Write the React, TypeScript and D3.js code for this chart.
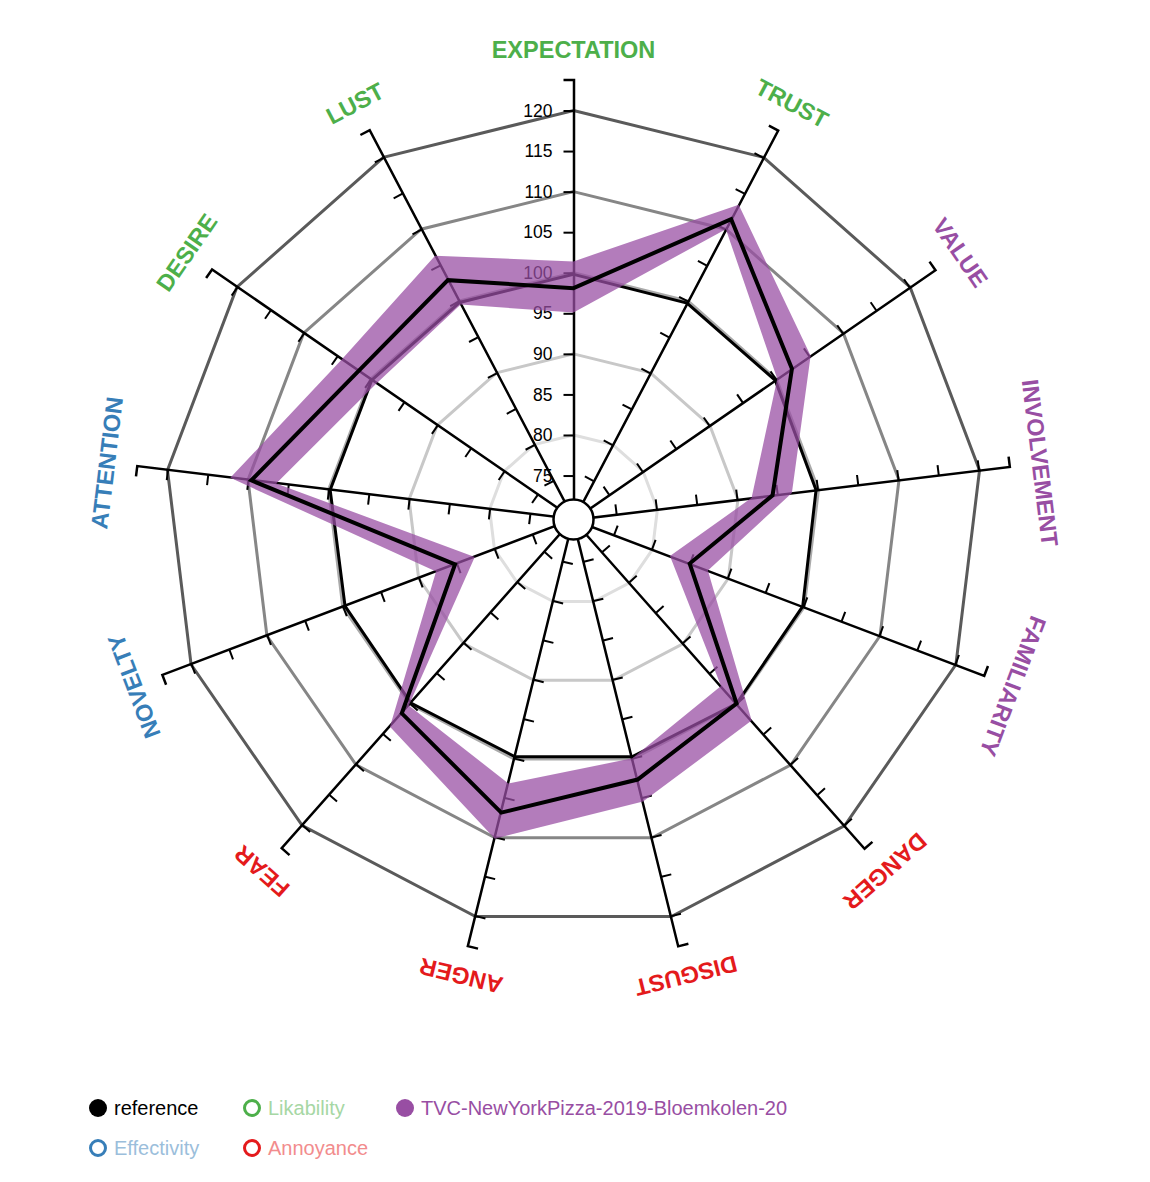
import React, { useEffect, useRef } from 'react';
import * as d3 from 'd3';

const dimensions = [
  'EXPECTATION', 'TRUST', 'VALUE', 'INVOLVEMENT', 'FAMILIARITY', 'DANGER', 'DISGUST',
  'ANGER', 'FEAR', 'NOVELTY', 'ATTENTION', 'DESIRE', 'LUST',
];
const dimensionColors = [
  '#4daf4a', '#4daf4a', '#984ea3', '#984ea3', '#984ea3', '#e41a1c', '#e41a1c',
  '#e41a1c', '#e41a1c', '#377eb8', '#377eb8', '#4daf4a', '#4daf4a',
];
const referenceValues = [99.8, 99.7, 99.8, 99.7, 99.8, 99.9, 99.7, 99.7, 99.8, 99.7, 99.8, 99.8, 99.8];
const tvcMean = [98.1, 111.4, 102.3, 94.3, 84.9, 99.9, 102.6, 106.8, 101.5, 85.2, 109.6, 101.8, 102.9];
const tvcUpper = [101.4, 113.4, 105.1, 96.7, 87.3, 102.7, 105.4, 110.1, 103.7, 87.7, 112.2, 104.3, 106.3];
const tvcLower = [95.1, 110.0, 100.1, 91.7, 82.3, 97.0, 99.9, 103.1, 100.2, 82.6, 106.5, 99.1, 99.5];
const ringLevels = [80, 90, 100, 110, 120];
const ringColors = ['#dedede', '#c8c8c8', '#aaaaaa', '#868686', '#5a5a5a'];
const tickValues = [75, 80, 85, 90, 95, 100, 105, 110, 115, 120];
const legendLabels = ['reference', 'Likability', 'TVC-NewYorkPizza-2019-Bloemkolen-20', 'Effectivity', 'Annoyance'];
const legendColors = ['#000000', '#4daf4a', '#984ea3', '#377eb8', '#e41a1c'];
const legendTextColors = ['#000000', '#a6d7a4', '#984ea3', '#9bbedb', '#f28c8d'];
const legendFilled = [true, false, true, false, false];
const legendCol = [0, 1, 2, 0, 1];
const legendRow = [0, 0, 0, 1, 1];

const W = 1150;
const H = 1182;
const cx = 573.5;
const cy = 519.5;
const FONT = "'Liberation Sans', Arial, Helvetica, sans-serif";

export default function App() {
  const ref = useRef<SVGSVGElement>(null);

  useEffect(() => {
    const svg = d3.select(ref.current);
    svg.selectAll('*').remove();

    const n = dimensions.length;
    const angle = (i: number) => (i * 2 * Math.PI) / n;
    const r = d3.scaleLinear().domain([70, 120]).range([3.4, 409]);
    const axisEndR = 440;
    const axisMax = r.invert(axisEndR);
    const axisScale = d3.scaleLinear().domain([r.invert(0), axisMax]).range([0, -axisEndR]);

    const root = svg.append('g').attr('transform', `translate(${cx},${cy})`);

    // rings
    const ringLine = d3
      .lineRadial<number>()
      .angle((_, i) => angle(i))
      .radius((d) => r(d))
      .curve(d3.curveLinearClosed);
    ringLevels.forEach((lv, k) => {
      root
        .append('path')
        .attr('d', ringLine(dimensions.map(() => lv)) as string)
        .attr('fill', 'none')
        .attr('stroke', ringColors[k])
        .attr('stroke-width', 3);
    });

    // axes
    dimensions.forEach((_, i) => {
      const axis = d3
        .axisLeft(axisScale)
        .tickValues(tickValues)
        .tickSize(10)
        .tickSizeOuter(10)
        .tickPadding(11)
        .tickFormat(i === 0 ? (d3.format('d') as any) : () => '');
      const g = root
        .append('g')
        .attr('transform', `rotate(${(angle(i) * 180) / Math.PI})`)
        .call(axis as any);
      g.attr('font-size', 17.5).attr('font-family', FONT);
      g.select('.domain').attr('stroke', '#000').attr('stroke-width', 2.5);
      g.selectAll('.tick line').attr('stroke', '#000').attr('stroke-width', 2);
      g.selectAll('.tick text').attr('fill', '#000');
    });

    // reference line
    const valLine = d3
      .lineRadial<number>()
      .angle((_, i) => angle(i))
      .radius((d) => r(d))
      .curve(d3.curveLinearClosed);
    root
      .append('path')
      .attr('d', valLine(referenceValues) as string)
      .attr('fill', 'none')
      .attr('stroke', '#000')
      .attr('stroke-width', 3);

    // TVC band
    const band = d3
      .areaRadial<number>()
      .angle((_, i) => angle(i))
      .innerRadius((_, i) => r(tvcLower[i]))
      .outerRadius((_, i) => r(tvcUpper[i]))
      .curve(d3.curveLinearClosed);
    root
      .append('path')
      .attr('d', band(tvcMean) as string)
      .attr('fill', '#984ea3')
      .attr('fill-opacity', 0.74)
      .attr('fill-rule', 'evenodd')
      .attr('stroke', 'none');

    // TVC mean line
    root
      .append('path')
      .attr('d', valLine(tvcMean) as string)
      .attr('fill', 'none')
      .attr('stroke', '#000')
      .attr('stroke-width', 4);

    // center circle
    root
      .append('circle')
      .attr('r', 20)
      .attr('fill', '#fff')
      .attr('stroke', '#000')
      .attr('stroke-width', 2.5);

    // dimension labels
    dimensions.forEach((name, i) => {
      root
        .append('text')
        .attr('transform', `rotate(${(angle(i) * 180) / Math.PI})`)
        .attr('x', 0)
        .attr('y', -470)
        .attr('dy', '0.35em')
        .attr('text-anchor', 'middle')
        .attr('font-family', FONT)
        .attr('font-weight', 'bold')
        .attr('font-size', 23.5)
        .attr('fill', dimensionColors[i])
        .text(name);
    });

    // legend
    const colX = [98, 252, 405];
    const rowY = [1108, 1148];
    const lg = svg.append('g');
    legendLabels.forEach((label, k) => {
      const x = colX[legendCol[k]];
      const y = rowY[legendRow[k]];
      if (legendFilled[k]) {
        lg.append('circle').attr('cx', x).attr('cy', y).attr('r', 9).attr('fill', legendColors[k]);
      } else {
        lg.append('circle')
          .attr('cx', x)
          .attr('cy', y)
          .attr('r', 7.5)
          .attr('fill', '#fff')
          .attr('stroke', legendColors[k])
          .attr('stroke-width', 3);
      }
      lg.append('text')
        .attr('x', x + 16)
        .attr('y', y)
        .attr('dy', '0.35em')
        .attr('font-family', FONT)
        .attr('font-size', 20)
        .attr('fill', legendTextColors[k])
        .text(label);
    });
  }, []);

  return (
    <svg
      ref={ref}
      width={W}
      height={H}
      style={{ position: 'absolute', left: 0, top: 0, display: 'block', background: '#fff' }}
    />
  );
}
